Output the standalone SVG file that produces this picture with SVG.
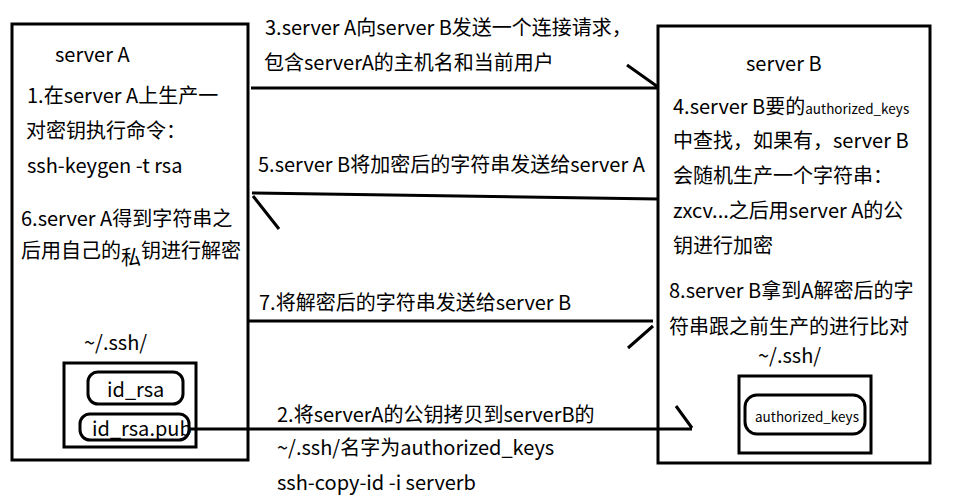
<svg xmlns="http://www.w3.org/2000/svg" width="962" height="504" viewBox="0 0 962 504">
<style>
text{font-family:"Microsoft YaHei","Noto Sans CJK SC","Noto Sans",sans-serif;font-size:20px;fill:#000}
.sm{font-size:13.5px}
.box{fill:none;stroke:#000;stroke-width:3}
.cn{fill:none;stroke:#000;stroke-width:3;stroke-linecap:butt}
</style>
<rect width="962" height="504" fill="#fff"/>
<g id="serverA">
<rect class="box" x="12" y="24" width="236" height="436"/>
<text x="55" y="62">server A</text>
<text x="27" y="103">1.在server A上生产一</text>
<text x="26" y="138">对密钥执行命令：</text>
<text x="27" y="173">ssh-keygen -t rsa</text>
<text x="21" y="226">6.server A得到字符串之</text>
<text x="21" y="258">后用自己的<tspan dy="7">私</tspan><tspan dy="-7">钥进行解密</tspan></text>
<text x="84" y="350">~/.ssh/</text>
<rect class="box" x="64" y="363" width="132" height="84"/>
</g>
<g id="id_rsa">
<rect class="box" x="88" y="372" width="95" height="32" rx="10"/>
<text x="107" y="397">id_rsa</text>
</g>
<g id="id_rsa_pub">
<rect class="box" x="80" y="414" width="109" height="26" rx="10"/>
<text x="92" y="436">id_rsa.pub</text>
</g>
<g id="serverB">
<rect class="box" x="658" y="26" width="272" height="437"/>
<text x="746" y="71">server B</text>
<text x="673" y="114">4.server B要的<tspan class="sm">authorized_keys</tspan></text>
<text x="673" y="148">中查找，如果有，server B</text>
<text x="673" y="183">会随机生产一个字符串：</text>
<text x="673" y="218">zxcv...之后用server A的公</text>
<text x="673" y="253">钥进行加密</text>
<text x="669" y="298">8.server B拿到A解密后的字</text>
<text x="669" y="334">符串跟之前生产的进行比对</text>
<text x="758" y="363">~/.ssh/</text>
<rect class="box" x="739" y="376" width="132" height="77"/>
</g>
<g id="authorized_keys">
<rect class="box" x="745" y="395" width="120" height="39" rx="12"/>
<text class="sm" x="755" y="422">authorized_keys</text>
</g>
<g id="connectors">
<path class="cn" d="M251,88 H658 M627,65 L658,87"/>
<path class="cn" d="M252,193 L658,199 M253,196 L279,229"/>
<path class="cn" d="M249,321 H653 M628,348 L653,326"/>
<path class="cn" d="M189,429 H692 M676,406 L692,428"/>
</g>
<g id="labels">
<text x="265" y="35">3.server A向server B发送一个连接请求，</text>
<text x="264" y="70">包含serverA的主机名和当前用户</text>
<text x="258" y="172">5.server B将加密后的字符串发送给server A</text>
<text x="259" y="310">7.将解密后的字符串发送给server B</text>
<text x="277" y="422">2.将serverA的公钥拷贝到serverB的</text>
<text x="277" y="455">~/.ssh/名字为authorized_keys</text>
<text x="277" y="490">ssh-copy-id -i serverb</text>
</g>
</svg>
